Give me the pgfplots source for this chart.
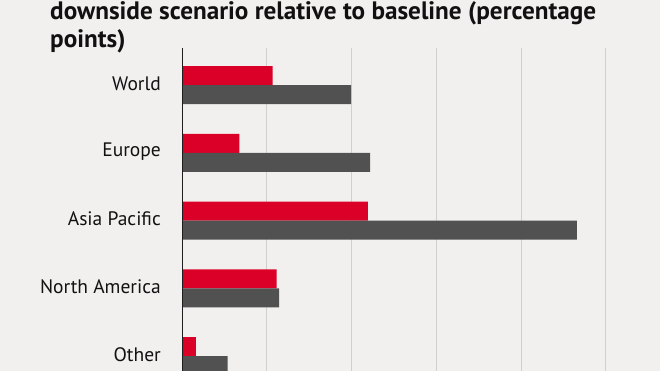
\documentclass[border=0pt]{standalone}
\usepackage{pgfplots}
\pgfplotsset{compat=1.18}
\usepackage{fontspec}
\setmainfont{PT Sans}
\definecolor{bgc}{HTML}{F2F0EE}
\definecolor{redc}{HTML}{DA0028}
\definecolor{greyc}{HTML}{515151}
\definecolor{gridc}{HTML}{D0CFCD}
\definecolor{axisc}{HTML}{1E1E1E}
\definecolor{titlec}{HTML}{111111}
\begin{document}
\begin{tikzpicture}[x=1pt,y=1pt]
\useasboundingbox (0,0) rectangle (660,371);
\clip (0,0) rectangle (660,371);
\fill[bgc] (0,0) rectangle (660,371);
\node[anchor=base west, inner sep=0pt, font=\fontsize{25.2}{28}\selectfont\bfseries, text=titlec] at (50,351) {downside scenario relative to baseline (percentage};
\node[anchor=base west, inner sep=0pt, font=\fontsize{25.2}{28}\selectfont\bfseries, text=titlec] at (50,323) {points)};
\begin{axis}[
  at={(182pt,0pt)}, anchor=south west,
  scale only axis, width=478pt, height=323pt,
  xmin=0, xmax=5.637, ymin=-0.218, ymax=4.546,
  axis line style={draw=none},
  xtick={1,2,3,4,5}, xticklabels={},
  xmajorgrids, grid style={color=gridc, line width=1pt},
  ytick={0,1,2,3,4},
  yticklabels={Other, North America, Asia Pacific, Europe, World},
  major tick length=0pt, tick style={draw=none},
  yticklabel style={font=\fontsize{19.5}{22}\selectfont, inner sep=0pt, xshift=-21pt, yshift=1.5pt, text=titlec},
  xbar, bar width=19pt,
  clip=true,
]
\addplot[fill=redc, draw=none, bar shift=9.5pt] coordinates {(1.07,4) (0.676,3) (2.193,2) (1.117,1) (0.165,0)};
\addplot[fill=greyc, draw=none, bar shift=-9.5pt] coordinates {(1.993,4) (2.217,3) (4.658,2) (1.144,1) (0.539,0)};
\draw[axisc, line width=1.6pt] (rel axis cs:0,0) -- (rel axis cs:0,1);
\end{axis}
\end{tikzpicture}
\end{document}
